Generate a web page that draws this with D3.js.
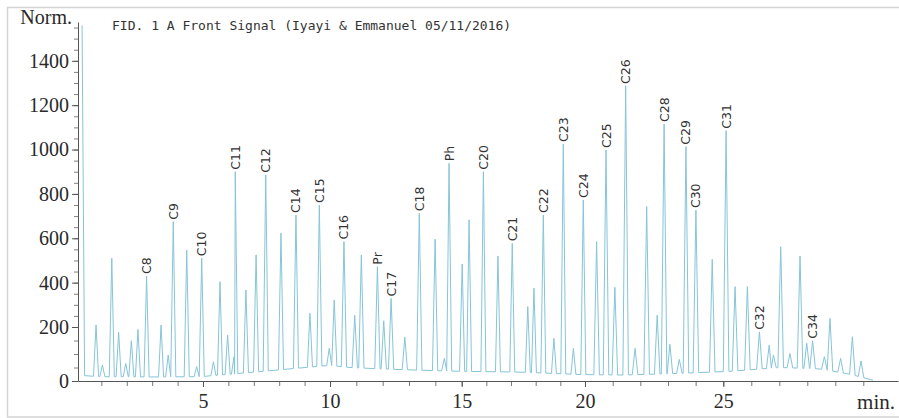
<!DOCTYPE html>
<html>
<head>
<meta charset="UTF-8" />
<title>FID chromatogram</title>
<script src="https://cdn.jsdelivr.net/npm/d3@7/dist/d3.min.js"></script>
<style type="text/css">
body {
    margin: 0;
    background-color: #fff;
}
.peak-label {
    font-family: "DejaVu Sans", Verdana, sans-serif;
    font-size: 12.5px;
    fill: #333;
}
</style>
</head>
<body>
<svg id="chart" width="899" height="418"></svg>

<script type="text/javascript">
// retention time (min) of each peak, its height (Norm.) and the name written above it
var peakTime = [0.24, 0.79, 1.04, 1.41, 1.68, 1.96, 2.18, 2.44, 2.78, 3.35,
    3.63, 3.83, 4.36, 4.75, 4.95, 5.41, 5.67, 5.97, 6.22, 6.27,
    6.69, 7.09, 7.47, 8.07, 8.66, 9.21, 9.58, 9.97, 10.16, 10.53,
    10.94, 11.19, 11.80, 12.04, 12.32, 12.84, 13.39, 13.99, 14.34, 14.52,
    15.02, 15.30, 15.88, 16.47, 17.05, 17.68, 17.93, 18.31, 18.74, 19.12,
    19.53, 19.93, 20.42, 20.76, 21.08, 21.47, 21.81, 22.23, 22.61, 22.86,
    23.07, 23.41, 23.65, 24.01, 24.60, 25.10, 25.42, 25.86, 26.29, 26.64,
    26.79, 27.05, 27.38, 27.74, 27.98, 28.19, 28.61, 28.81, 29.19, 29.61, 29.92];

var peakHeight = [1560, 209, 59, 510, 180, 65, 149, 191, 430, 209,
    96, 675, 547, 53, 510, 71, 404, 170, 90, 900,
    367, 525, 886, 623, 705, 262, 750, 121, 322, 585,
    253, 525, 472, 228, 329, 162, 713, 596, 84, 938,
    484, 683, 900, 520, 577, 292, 375, 705, 158, 1025,
    121, 773, 585, 998, 379, 1287, 121, 743, 253, 1115,
    136, 80, 1013, 727, 505, 1085, 382, 382, 182, 133,
    96, 562, 102, 520, 140, 149, 90, 239, 84, 164, 74];

var peakLabel = ['', '', '', '', '', '', '', '', 'C8', '',
    '', 'C9', '', '', 'C10', '', '', '', '', 'C11',
    '', '', 'C12', '', 'C14', '', 'C15', '', '', 'C16',
    '', '', 'Pr', '', 'C17', '', 'C18', '', '', 'Ph',
    '', '', 'C20', '', 'C21', '', '', 'C22', '', 'C23',
    '', 'C24', '', 'C25', '', 'C26', '', '', '', 'C28',
    '', '', 'C29', 'C30', '', 'C31', '', '', 'C32', '',
    '', '', '', '', '', 'C34', '', '', '', '', ''];

// baseline drift of the signal
var baseTime = [0.08, 0.31, 0.94, 2.91, 4.88, 6.06, 7.24, 8.43, 10.0, 10.76, 11.90,
    13.42, 14.94, 17.36, 19.80, 21.27, 23.43, 25.24, 27.02, 28.45, 29.52, 30.35];
var baseLevel = [20, 20, 16, 15, 16, 25, 35, 45, 58, 50, 45,
    40, 36, 33, 24, 22, 28, 36, 50, 45, 25, 3];

var xMajor = [5, 10, 15, 20, 25];
var xMinor = d3.range(1, 31);
var yMajor = [0, 200, 400, 600, 800, 1000, 1200, 1400];
var yMinor = d3.range(0, 1551, 50);

var title = "FID. 1 A Front Signal (Iyayi & Emmanuel 05/11/2016)";

var svg = d3.select("#chart");

// frame of the scanned figure
svg.append("path")
    .attr("d", "M899,7.5 H7.5 V417 H899")
    .attr("fill", "none")
    .attr("stroke", "#d4d4d4")
    .attr("stroke-width", 1.5);

// the printed axes are not quite even, so both scales are piecewise
var x = d3.scaleLinear()
    .domain([0.08, 5, 10, 15, 20, 25, 30, 31.24])
    .range([78, 203, 330, 461.7, 585, 723.3, 863.3, 898]);
var y = d3.scaleLinear().domain([0, 200, 1575]).range([381, 327, 22]);
var base = d3.scaleLinear().domain(baseTime).range(baseLevel).clamp(true);

// build the trace: each peak rises from the baseline and falls back to it
var halfWidth = 0.1;
var points = [];
for (var i = 0; i < peakTime.length; i++) {
    var t = peakTime[i];
    var left = i > 0 ? Math.min(halfWidth, (t - peakTime[i - 1]) / 2) : 0.06;
    var right = i < peakTime.length - 1 ? Math.min(halfWidth, (peakTime[i + 1] - t) / 2) : halfWidth;
    if (i > 0) points.push([t - left, base(t - left)]);
    points.push([t, peakHeight[i]]);
    points.push([t + right, base(t + right)]);
}
points.push([30.35, base(30.35)]);

var line = d3.line()
    .x(function(d) { return x(d[0]); })
    .y(function(d) { return y(d[1]); });

svg.append("path")
    .datum(points)
    .attr("fill", "none")
    .attr("stroke", "#86c5d8")
    .attr("stroke-width", 1)
    .attr("d", line);

// axes
var serif = "'Liberation Serif', 'Times New Roman', serif";

var yMinorAxis = svg.append("g")
    .attr("transform", "translate(78,0)")
    .call(d3.axisLeft(y).tickValues(yMinor).tickSize(4).tickFormat(""));
yMinorAxis.select(".domain").remove();
yMinorAxis.style("color", "#8a7f80");

var yAxis = svg.append("g")
    .attr("transform", "translate(78,0)")
    .call(d3.axisLeft(y).tickValues(yMajor).tickFormat(d3.format("d"))
        .tickSize(6).tickPadding(3).tickSizeOuter(0));
yAxis.style("color", "#555");
yAxis.selectAll("text")
    .attr("font-family", serif)
    .attr("font-size", 20)
    .attr("fill", "#2a2a2a");

var xMinorAxis = svg.append("g")
    .attr("transform", "translate(0,381)")
    .call(d3.axisBottom(x).tickValues(xMinor).tickSize(5).tickFormat(""));
xMinorAxis.select(".domain").remove();
xMinorAxis.style("color", "#777");

var xAxis = svg.append("g")
    .attr("transform", "translate(0,381)")
    .call(d3.axisBottom(x).tickValues(xMajor).tickFormat(d3.format("d"))
        .tickSize(6).tickPadding(7).tickSizeOuter(0));
xAxis.style("color", "#555");
xAxis.selectAll("text")
    .attr("font-family", serif)
    .attr("font-size", 20)
    .attr("fill", "#2a2a2a");

svg.append("text")
    .attr("x", 72)
    .attr("y", 24)
    .attr("text-anchor", "end")
    .attr("font-family", serif)
    .attr("font-size", 20)
    .attr("fill", "#2a2a2a")
    .text("Norm.");

svg.append("text")
    .attr("x", 895)
    .attr("y", 409)
    .attr("text-anchor", "end")
    .attr("font-family", serif)
    .attr("font-size", 21)
    .attr("fill", "#2a2a2a")
    .text("min.");

svg.append("text")
    .attr("x", 112)
    .attr("y", 30)
    .attr("font-family", "'DejaVu Sans Mono', monospace")
    .attr("font-size", 13)
    .attr("fill", "#333")
    .text(title);

// component names, written upward just above each peak
var labelled = d3.range(peakTime.length).filter(function(i) { return peakLabel[i] !== ''; });

svg.append("g").selectAll("text")
    .data(labelled)
    .enter().append("text")
    .attr("class", "peak-label")
    .attr("transform", function(i) {
        return "translate(" + x(peakTime[i]) + "," + (y(peakHeight[i]) - 2) + ") rotate(-90)";
    })
    .attr("dy", "0.36em")
    .text(function(i) { return peakLabel[i]; });
</script>
</body>
</html>
